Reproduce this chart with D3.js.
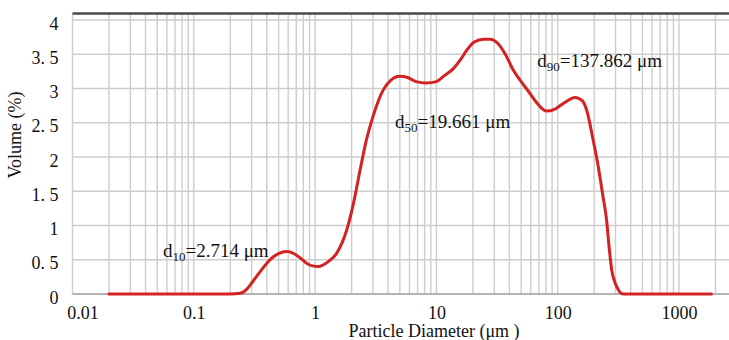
<!DOCTYPE html>
<html>
<head>
<meta charset="utf-8">
<script src="https://cdn.jsdelivr.net/npm/d3@7"></script>
<style>
  body { margin: 0; background: #fff; }
  svg text { font-family: "Liberation Serif", "Times New Roman", serif; fill: #111; }
</style>
</head>
<body>
<svg id="chart" width="729" height="340"></svg>
<script>
// particle size distribution
const diameters = [0.02, 0.05, 0.1, 0.2, 0.24, 0.27, 0.3, 0.35, 0.4, 0.45, 0.5, 0.58, 0.65, 0.75, 0.85, 0.95,
  1.06, 1.3, 1.5, 1.82, 2.07, 2.35, 2.65, 3.0, 3.65, 4.2, 5.0, 5.8, 6.8, 8.3, 10, 11.5, 13.8, 15.8, 17.8,
  20.5, 24.4, 28, 32, 37, 43, 50, 59, 68, 81, 95, 115, 139, 160, 173, 196, 216, 235, 253, 265, 279, 295,
  306, 325, 347, 400, 1000, 1850];
const volumes = [0, 0, 0, 0, 0.01, 0.06, 0.16, 0.32, 0.45, 0.54, 0.59, 0.62, 0.6, 0.53, 0.45, 0.41,
  0.40, 0.48, 0.59, 0.93, 1.32, 1.81, 2.25, 2.59, 2.98, 3.12, 3.18, 3.16, 3.1, 3.08, 3.1, 3.18, 3.29, 3.42, 3.56,
  3.68, 3.72, 3.72, 3.66, 3.5, 3.27, 3.1, 2.93, 2.78, 2.67, 2.7, 2.8, 2.87, 2.82, 2.69, 2.25, 1.86, 1.45, 1.08, 0.7, 0.35, 0.18,
  0.11, 0.03, 0, 0, 0, 0];

const xTickValues = [0.01, 0.1, 1, 10, 100, 1000];
const xTickLabels = ['0.01', '0.1', '1', '10', '100', '1000'];
const yTickValues = [0, 0.5, 1, 1.5, 2, 2.5, 3, 3.5, 4];
const yTickLabels = ['0', '0. 5', '1', '1. 5', '2', '2. 5', '3', '3. 5', '4'];

const annotations = [
  { d: 'd', sub: '10', rest: '=2.714 μm', at: [0.0557, 0.54] },
  { d: 'd', sub: '50', rest: '=19.661 μm', at: [4.56, 2.42] },
  { d: 'd', sub: '90', rest: '=137.862 μm', at: [67.9, 3.32] }
];

const svg = d3.select('#chart'),
  plotLeft = 72.5, plotRight = 729.3, plotTop = 13.5, plotBottom = 294;

const x = d3.scaleLog()
  .domain([0.01, 2600])
  .range([plotLeft, plotRight]);

const y = d3.scaleLinear()
  .domain([0, 4])
  .range([plotBottom, 20]);

// grid: every 1..9 within each decade
const gridX = [];
for (let e = -2; e <= 3; e++) {
  for (let k = 1; k <= 9; k++) {
    const v = k * Math.pow(10, e);
    if (v <= 2600) gridX.push(v);
  }
}

const g = svg.append('g');

g.selectAll('.vgrid')
  .data(gridX)
  .enter().append('line')
  .attr('x1', d => x(d)).attr('x2', d => x(d))
  .attr('y1', plotTop).attr('y2', plotBottom)
  .attr('stroke', '#cdcdcd')
  .attr('stroke-width', 1.4);

g.selectAll('.hgrid')
  .data(yTickValues.filter(v => v > 0))
  .enter().append('line')
  .attr('x1', plotLeft).attr('x2', plotRight)
  .attr('y1', d => y(d)).attr('y2', d => y(d))
  .attr('stroke', '#cdcdcd')
  .attr('stroke-width', 1.4);

// frame
g.append('line')
  .attr('x1', plotLeft).attr('x2', plotRight)
  .attr('y1', plotBottom).attr('y2', plotBottom)
  .attr('stroke', '#b4b4b4')
  .attr('stroke-width', 2);

g.append('line')
  .attr('x1', plotLeft).attr('x2', plotRight)
  .attr('y1', plotTop).attr('y2', plotTop)
  .attr('stroke', '#4a4a4a')
  .attr('stroke-width', 2.5);

// axes
const xAxis = g.append('g')
  .attr('transform', 'translate(0,' + plotBottom + ')')
  .call(d3.axisBottom(x)
    .tickValues(xTickValues)
    .tickFormat((d, i) => xTickLabels[i])
    .tickSize(0)
    .tickPadding(12));
xAxis.select('.domain').remove();
xAxis.selectAll('text')
  .attr('font-size', 18)
  .attr('dx', (d, i) => i === 0 ? 10 : 0);

const yAxis = g.append('g')
  .attr('transform', 'translate(' + plotLeft + ',0)')
  .call(d3.axisLeft(y)
    .tickValues(yTickValues)
    .tickFormat((d, i) => yTickLabels[i])
    .tickSize(0)
    .tickPadding(14));
yAxis.select('.domain').remove();
yAxis.selectAll('text')
  .attr('font-size', 18)
  .attr('dy', '0.5em');

// curve
const line = d3.line()
  .x((d, i) => x(diameters[i]))
  .y(d => y(d))
  .curve(d3.curveMonotoneX);

g.append('path')
  .datum(volumes)
  .attr('fill', 'none')
  .attr('stroke', '#d42121')
  .attr('stroke-width', 3)
  .attr('stroke-linejoin', 'round')
  .attr('stroke-linecap', 'round')
  .attr('d', line);

// d10 / d50 / d90 labels
annotations.forEach(a => {
  const t = g.append('text')
    .attr('x', x(a.at[0]))
    .attr('y', y(a.at[1]))
    .attr('font-size', 19);
  t.append('tspan').text(a.d);
  t.append('tspan').attr('font-size', 13).attr('dy', 4).text(a.sub);
  t.append('tspan').attr('dy', -4).text(a.rest);
});

// axis titles
svg.append('text')
  .attr('x', 434)
  .attr('y', 337)
  .attr('text-anchor', 'middle')
  .attr('font-size', 18)
  .text('Particle Diameter (μm )');

svg.append('text')
  .attr('transform', 'translate(21,135) rotate(-90)')
  .attr('text-anchor', 'middle')
  .attr('font-size', 18)
  .text('Volume (%)');
</script>
</body>
</html>
